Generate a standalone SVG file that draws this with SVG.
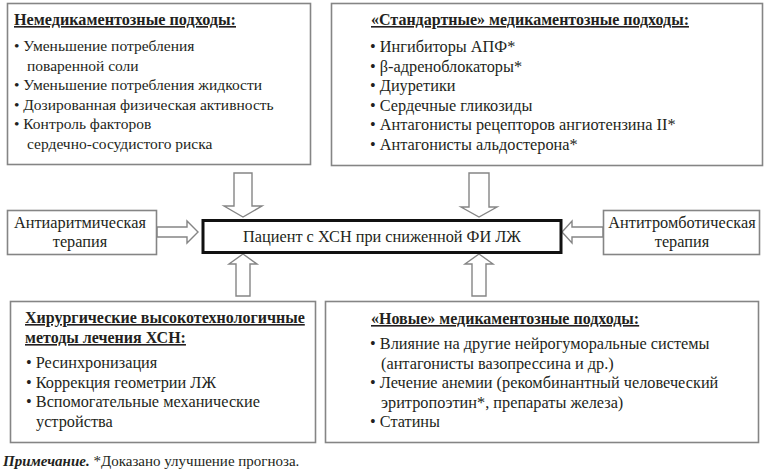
<svg xmlns="http://www.w3.org/2000/svg" width="769" height="475" viewBox="0 0 769 475">
<style>
text{font-family:'Liberation Serif','Times New Roman',serif;font-size:16.3px;fill:#231f20}
.h{font-size:16px;font-weight:bold;text-decoration:underline}
.s{font-size:15.5px}
.c{text-anchor:middle}
.box{fill:#fff;stroke:#858585;stroke-width:1.6}
.main{fill:#fff;stroke:#111;stroke-width:3}
.arr{fill:#fff;stroke:#858585;stroke-width:1.4;stroke-linejoin:miter}
</style>
<rect width="769" height="475" fill="#fff"/>
<g id="connectors">
<path class="arr" d="M234,173 H252 V206 H262 L243,217 L224,206 H234 Z"/>
<path class="arr" d="M469,173 H489 V207 H497 L479,217 L461,207 H469 Z"/>
<path class="arr" d="M236,296 V264 H229 L243,254 L257,264 H250 V296 Z"/>
<path class="arr" d="M472,296 V264 H465 L479,254 L493,264 H486 V296 Z"/>
<path class="arr" d="M157,227 H187 V221 L198,232 L187,243 V237 H157 Z"/>
<path class="arr" d="M603,227 H572 V221 L562,232 L572,243 V237 H603 Z"/>
</g>
<g id="nonpharm">
<rect class="box" x="7.5" y="3.5" width="303" height="161"/>
<text class="h" x="14" y="25" style="font-size:16.2px">Немедикаментозные подходы:</text>
<text class="s" x="14" y="51">• Уменьшение потребления</text>
<text class="s" x="27" y="70.5">поваренной соли</text>
<text class="s" x="14" y="90">• Уменьшение потребления жидкости</text>
<text class="s" x="14" y="109.5">• Дозированная физическая активность</text>
<text class="s" x="14" y="129">• Контроль факторов</text>
<text class="s" x="27" y="148.5">сердечно-сосудистого риска</text>
</g>
<g id="standard">
<rect class="box" x="331.5" y="3.5" width="431" height="162"/>
<text class="h" x="371" y="25">«Стандартные» медикаментозные подходы:</text>
<text x="370" y="52">• Ингибиторы АПФ*</text>
<text x="370" y="71.5">• β-адреноблокаторы*</text>
<text x="370" y="91">• Диуретики</text>
<text x="370" y="110.5">• Сердечные гликозиды</text>
<text x="370" y="130">• Антагонисты рецепторов ангиотензина II*</text>
<text x="370" y="149.5">• Антагонисты альдостерона*</text>
</g>
<g id="patient">
<rect class="main" x="203" y="220.5" width="358" height="32"/>
<text class="c" x="382" y="242">Пациент с ХСН при сниженной ФИ ЛЖ</text>
</g>
<g id="antiarrhythmic">
<rect class="box" x="7.5" y="210.5" width="149" height="44"/>
<text class="c" x="80" y="228">Антиаритмическая</text>
<text class="c" x="80" y="247">терапия</text>
</g>
<g id="antithrombotic">
<rect class="box" x="603.5" y="210.5" width="156" height="44"/>
<text class="c" x="682" y="228">Антитромботическая</text>
<text class="c" x="682" y="247">терапия</text>
</g>
<g id="surgical">
<rect class="box" x="10.5" y="301.5" width="305" height="141"/>
<text class="h" x="25" y="323">Хирургические высокотехнологичные</text>
<text class="h" x="25" y="343">методы лечения ХСН:</text>
<text x="26" y="368">• Ресинхронизация</text>
<text x="26" y="387.5">• Коррекция геометрии ЛЖ</text>
<text x="26" y="407">• Вспомогательные механические</text>
<text x="36" y="426.5">устройства</text>
</g>
<g id="new">
<rect class="box" x="325.5" y="301.5" width="433" height="141"/>
<text class="h" x="371" y="324">«Новые» медикаментозные подходы:</text>
<text x="370" y="349">• Влияние на другие нейрогуморальные системы</text>
<text x="381" y="368.5">(антагонисты вазопрессина и др.)</text>
<text x="370" y="388">• Лечение анемии (рекомбинантный человеческий</text>
<text x="381" y="407.5">эритропоэтин*, препараты железа)</text>
<text x="370" y="427">• Статины</text>
</g>
<g id="note">
<text x="3" y="466" style="font-size:15px"><tspan style="font-weight:bold;font-style:italic">Примечание.</tspan> *Доказано улучшение прогноза.</text>
</g>
</svg>
